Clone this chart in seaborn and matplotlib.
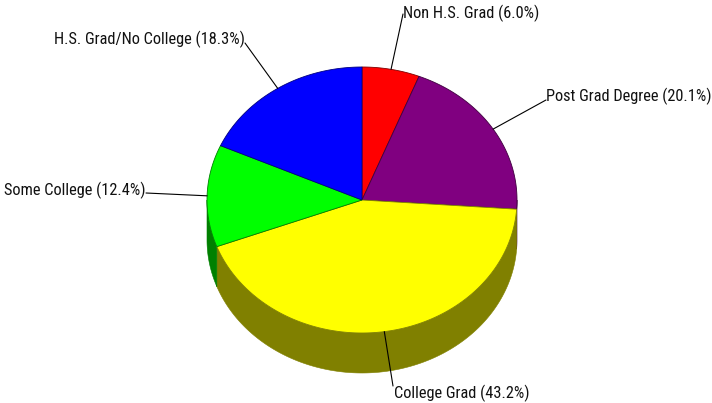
import numpy as np
import matplotlib
matplotlib.use("Agg")
import matplotlib.pyplot as plt
import seaborn as sns
from matplotlib.patches import Polygon

# ---- data ----
labels = ["Non H.S. Grad", "Post Grad Degree", "College Grad", "Some College", "H.S. Grad/No College"]
values = [6.0, 20.1, 43.2, 12.4, 18.3]
colors = ["#FF0000", "#800080", "#FFFF00", "#00FF00", "#0000FF"]
side_colors = ["#800000", "#400040", "#808000", "#008000", "#000080"]

sns.set_style("white")
plt.rcParams['font.family'] = ['Roboto Condensed', 'Liberation Sans', 'DejaVu Sans']

# ---- layout (pixel space) ----
W, H = 712, 403
cx, cy, rx, ry, depth = 362, 200, 155, 133, 40
# label text position (x, y-center, ha) and leader attach point
text_pos = [(403, 13, 'left'), (546, 96, 'left'), (394, 393, 'left'), (146, 190, 'right'), (245, 39, 'right')]
leader_end = [(403, 14), (546, 100), (393, 386), (146, 193), (245, 43)]

fig = plt.figure(figsize=(W / 100, H / 100), dpi=100)
ax = fig.add_axes([0, 0, 1, 1])
ax.set_xlim(0, W)
ax.set_ylim(H, 0)
ax.axis('off')

pal = sns.color_palette(colors)
spal = sns.color_palette(side_colors)

def pt(theta_deg, dz=0.0):
    t = np.radians(theta_deg)
    return cx + rx * np.sin(t), cy - ry * np.cos(t) + dz

total = float(sum(values))
bounds = np.concatenate([[0], np.cumsum(values)]) / total * 360.0

# side walls (front half: 90..270 deg clockwise from top)
for i in range(len(values)):
    a, b = bounds[i], bounds[i + 1]
    lo, hi = max(a, 90), min(b, 270)
    if hi <= lo:
        continue
    th = np.linspace(lo, hi, 200)
    top = [pt(t) for t in th]
    bot = [pt(t, depth) for t in th[::-1]]
    ax.add_patch(Polygon(top + bot, closed=True, facecolor=spal[i],
                         edgecolor=spal[i], lw=0.4, zorder=1))

# top faces
for i in range(len(values)):
    a, b = bounds[i], bounds[i + 1]
    th = np.linspace(a, b, 300)
    poly = [(cx, cy)] + [pt(t) for t in th]
    ax.add_patch(Polygon(poly, closed=True, facecolor=pal[i],
                         edgecolor=spal[i], lw=0.6, zorder=2))

# labels and leaders
for i in range(len(values)):
    mid = (bounds[i] + bounds[i + 1]) / 2
    x0, y0 = pt(mid)
    x1, y1 = leader_end[i]
    ax.plot([x0, x1], [y0, y1], color='black', lw=0.8, zorder=3)
    tx, ty, ha = text_pos[i]
    ax.text(tx, ty, f"{labels[i]} ({values[i]:.1f}%)", ha=ha, va='center',
            fontsize=11.8, color='#111111', zorder=4)

fig.savefig("out.png", dpi=100)
